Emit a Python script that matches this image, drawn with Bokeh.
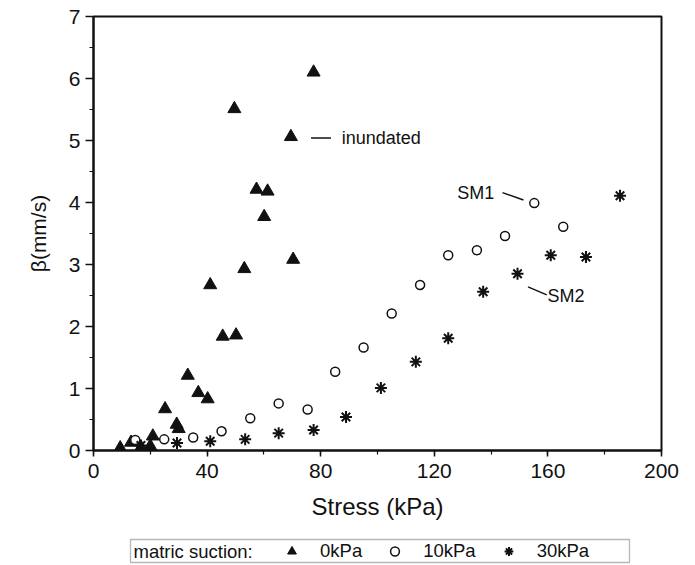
from bokeh.plotting import figure
from bokeh.layouts import column
from bokeh.models import (Range1d, Label, Legend, LegendItem, BoxAnnotation,
                          SingleIntervalTicker)
from bokeh.embed import file_html
from bokeh.resources import INLINE

# ---------------- data ----------------
# matric suction 0 kPa (filled triangles)
stress_0kpa = [9.4, 13.2, 16.7, 20.0, 20.9, 25.2, 29.3, 30.0, 33.2, 36.9, 40.2,
               41.1, 45.5, 50.2, 49.6, 53.1, 57.4, 60.1, 61.3, 69.5, 70.3, 77.5]
beta_0kpa = [0.04, 0.13, 0.05, 0.07, 0.23, 0.67, 0.42, 0.35, 1.21, 0.93, 0.83,
             2.67, 1.84, 1.86, 5.51, 2.93, 4.21, 3.77, 4.18, 5.06, 3.08, 6.10]

# matric suction 10 kPa (open circles)
stress_10kpa = [14.7, 24.9, 35.1, 45.1, 55.2, 65.2, 75.4, 85.1, 95.1, 105.0,
                115.0, 124.9, 135.0, 144.9, 155.2, 165.4]
beta_10kpa = [0.17, 0.18, 0.21, 0.31, 0.52, 0.76, 0.66, 1.27, 1.66, 2.21,
              2.67, 3.15, 3.23, 3.46, 3.99, 3.61]

# matric suction 30 kPa (asterisks)
stress_30kpa = [16.7, 29.4, 41.1, 53.4, 65.2, 77.5, 88.9, 101.2, 113.5, 124.9,
                137.2, 149.3, 161.0, 173.4, 185.4]
beta_30kpa = [0.08, 0.12, 0.15, 0.18, 0.28, 0.33, 0.54, 1.01, 1.43, 1.81,
              2.56, 2.85, 3.15, 3.12, 4.11]

series_labels = ["0kPa", "10kPa", "30kPa"]
legend_title = "matric suction:"
x_title = "Stress (kPa)"
y_title = "\u03b2(mm/s)"

# annotation texts and their anchor points (data units)
note_texts = ["inundated", "SM1", "SM2"]
note_x = [87.4, 141.1, 159.9]
note_y = [5.04, 4.16, 2.50]
note_align = ["left", "right", "left"]
lead_x0 = [76.6, 144.0, 153.0]
lead_y0 = [5.04, 4.16, 2.64]
lead_x1 = [83.6, 151.4, 159.6]
lead_y1 = [5.04, 4.04, 2.51]

# ---------------- styling ----------------
FONT = "Liberation Sans"
INK = "#111111"
W = 695
LEFT, RIGHT = 93, 34

p = figure(width=W, height=529, output_backend="svg", toolbar_location=None,
           x_range=Range1d(0, 200), y_range=Range1d(0, 7),
           min_border_left=LEFT, min_border_right=RIGHT,
           min_border_top=16, min_border_bottom=79,
           background_fill_color="white", border_fill_color="white")

p.xgrid.visible = False
p.ygrid.visible = False
p.outline_line_color = INK
p.outline_line_width = 2
p.outline_line_alpha = 1

p.xaxis.ticker = SingleIntervalTicker(interval=40, num_minor_ticks=2)
p.yaxis.ticker = SingleIntervalTicker(interval=1, num_minor_ticks=2)

for ax in (p.xaxis[0], p.yaxis[0]):
    ax.axis_line_color = INK
    ax.axis_line_width = 2
    ax.major_tick_line_color = INK
    ax.major_tick_line_width = 1.5
    ax.minor_tick_line_color = INK
    ax.minor_tick_line_width = 1.2
    ax.major_tick_in = 0
    ax.minor_tick_in = 0
    ax.major_label_text_font = FONT
    ax.major_label_text_font_size = "21px"
    ax.major_label_text_color = INK
    ax.axis_label_text_font = FONT
    ax.axis_label_text_font_style = "normal"
    ax.axis_label_text_color = INK

p.xaxis.major_tick_out = 6
p.xaxis.minor_tick_out = 4
p.yaxis.major_tick_out = 8
p.yaxis.minor_tick_out = 4
p.xaxis.major_label_standoff = 7
p.yaxis.major_label_standoff = 5
p.xaxis.axis_label = x_title
p.yaxis.axis_label = y_title
p.xaxis.axis_label_text_font_size = "24px"
p.yaxis.axis_label_text_font_size = "21px"
p.xaxis.axis_label_standoff = 12
p.yaxis.axis_label_standoff = 16

TRI = dict(marker="triangle", size=13, fill_color=INK, line_color=INK, line_width=1)
CIR = dict(marker="circle", size=9, fill_color="white", line_color=INK, line_width=1.5)
AST = dict(marker="asterisk", size=12, line_color=INK, line_width=2)

p.scatter(stress_0kpa, beta_0kpa, **TRI)
p.scatter(stress_10kpa, beta_10kpa, **CIR)
p.scatter(stress_30kpa, beta_30kpa, **AST)

# annotation leader lines and texts
p.segment(x0=lead_x0, y0=lead_y0, x1=lead_x1, y1=lead_y1,
          line_color=INK, line_width=1.4)
for t, x, y, a in zip(note_texts, note_x, note_y, note_align):
    p.add_layout(Label(x=x, y=y, text=t, text_align=a, text_baseline="middle",
                       text_font=FONT, text_font_size="18px", text_color=INK))

# ---------------- legend strip (boxed), its coordinates are canvas pixels ----
q = figure(width=W, height=36, output_backend="svg", toolbar_location=None,
           x_range=Range1d(LEFT, W - RIGHT), y_range=Range1d(565, 529),
           min_border_left=LEFT, min_border_right=RIGHT,
           min_border_top=0, min_border_bottom=0,
           x_axis_type=None, y_axis_type=None,
           background_fill_color="white", border_fill_color="white")
q.xgrid.visible = False
q.ygrid.visible = False
q.outline_line_alpha = 0

q.add_layout(BoxAnnotation(left=130, right=629, top=539, bottom=562,
                           fill_alpha=0, line_color=INK, line_width=1.3))
q.add_layout(Label(x=133, y=550.5, text=legend_title, text_align="left",
                   text_baseline="middle", text_font=FONT,
                   text_font_size="18.5px", text_color=INK))

# the same series in the legend strip (all lie outside its view, so only
# their legend glyphs are shown)
k0 = q.scatter(stress_0kpa, beta_0kpa, **TRI)
k1 = q.scatter(stress_10kpa, beta_10kpa, **CIR)
k2 = q.scatter(stress_30kpa, beta_30kpa, **AST)

legend = Legend(
    items=[LegendItem(label=lab, renderers=[r])
           for lab, r in zip(series_labels, [k0, k1, k2])],
    orientation="horizontal", location=(186, 3.5), margin=0,
    padding=0, spacing=20, label_standoff=16,
    glyph_width=25, glyph_height=22,
    label_text_font=FONT, label_text_font_size="18.5px", label_text_color=INK,
    border_line_alpha=0, background_fill_alpha=0,
)
q.add_layout(legend, "center")

layout = column(p, q, spacing=0)

with open("out.html", "w", encoding="utf-8") as f:
    f.write(file_html(layout, INLINE))
